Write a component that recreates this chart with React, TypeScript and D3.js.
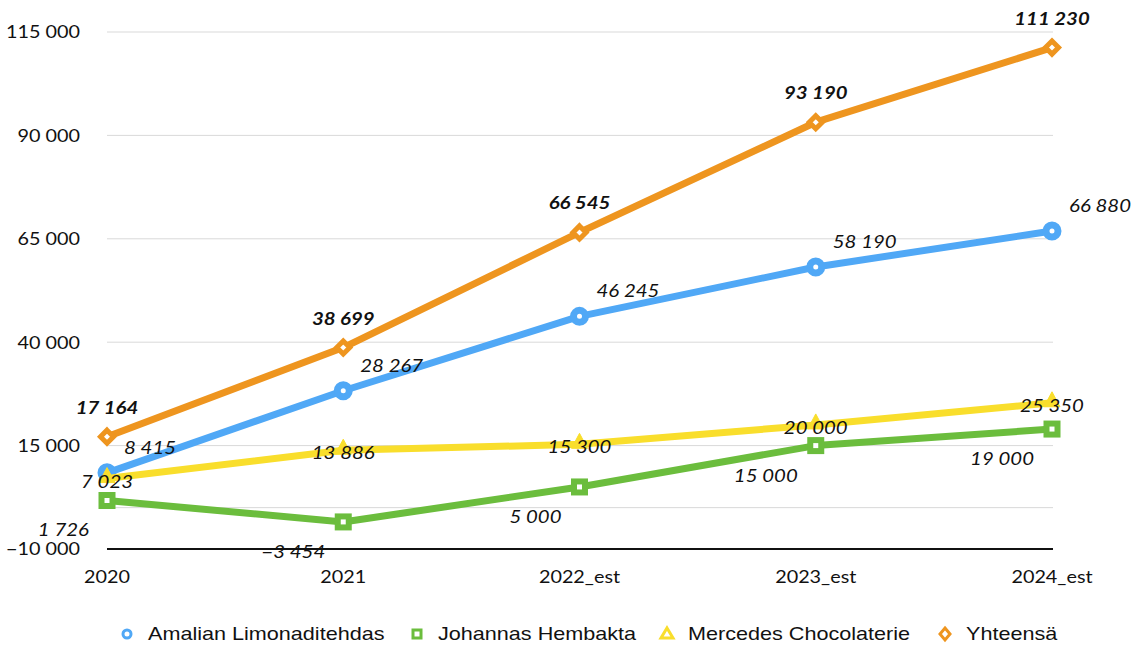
import React from "react";
import * as d3 from "d3";

const categories = ["2020", "2021", "2022_est", "2023_est", "2024_est"];
const amalian = [8415, 28267, 46245, 58190, 66880];
const johannes = [1726, -3454, 5000, 15000, 19000];
const mercedes = [7023, 13886, 15300, 20000, 25350];
const yhteensa = [17164, 38699, 66545, 93190, 111230];
const yTicks = [-10000, 15000, 40000, 65000, 90000, 115000];
const gridValues = [0, 15000, 40000, 65000, 90000, 115000];
const seriesNames = ["Amalian Limonaditehdas", "Johannas Hembakta", "Mercedes Chocolaterie", "Yhteensä"];

const BLUE = "#50a8f6";
const GREEN = "#6bbd3d";
const YELLOW = "#f9de2c";
const ORANGE = "#ee951f";

const axisFont = "Lato, Carlito, 'Open Sans', sans-serif";
const legendFont = "'Liberation Sans', Arial, sans-serif";

function fmt(v: number): string {
  const s = Math.abs(v).toString().replace(/\B(?=(\d{3})+(?!\d))/g, " ");
  return (v < 0 ? "\u2212" : "") + s;
}

function T(props: { x: number; y: number; anchor?: string; size: number; family: string; sx?: number; italic?: boolean; bold?: boolean; children: React.ReactNode }) {
  const sx = props.sx ?? 1.2;
  return (
    <text
      transform={`translate(${props.x},${props.y}) scale(${sx},1)`}
      dy="0.35em"
      textAnchor={props.anchor || "start"}
      fontFamily={props.family}
      fontSize={props.size}
      fontStyle={props.italic ? "italic" : "normal"}
      fontWeight={props.bold ? "bold" : "normal"}
      fill="#111"
    >
      {props.children}
    </text>
  );
}

export default function App() {
  const W = 1141, H = 645;
  const x = d3.scalePoint<string>().domain(categories).range([107, 1052]);
  const y = d3.scaleLinear().domain([-10000, 115000]).range([549, 32]);
  const line = d3.line<number>().x((_, i) => x(categories[i])!).y((d) => y(d));

  const circle = (cx: number, cy: number, k: string) => (
    <circle key={k} cx={cx} cy={cy} r={6} fill="#fff" stroke={BLUE} strokeWidth={7} />
  );
  const square = (cx: number, cy: number, k: string) => (
    <rect key={k} x={cx - 5.5} y={cy - 5.5} width={11} height={11} fill="#fff" stroke={GREEN} strokeWidth={6} />
  );
  const tri = (cx: number, cy: number, k: string) => (
    <path key={k} d={`M${cx},${cy - 11} L${cx + 8},${cy + 4} L${cx - 8},${cy + 4} Z`} fill={YELLOW} stroke={YELLOW} strokeWidth={1} />
  );
  const diamond = (cx: number, cy: number, k: string) => (
    <path key={k} d={`M${cx},${cy - 6.5} L${cx + 6.5},${cy} L${cx},${cy + 6.5} L${cx - 6.5},${cy} Z`} fill="#fff" stroke={ORANGE} strokeWidth={5} />
  );

  const series = [
    { vals: amalian, color: BLUE, marker: circle },
    { vals: johannes, color: GREEN, marker: square },
    { vals: mercedes, color: YELLOW, marker: tri },
    { vals: yhteensa, color: ORANGE, marker: diamond },
  ];

  const legendX = [127, 417, 667, 945];

  return (
    <svg width={W} height={H} style={{ position: "absolute", left: 0, top: 0, background: "#fff" }}>
      {gridValues.map((v) => (
        <line key={"g" + v} x1={107} x2={1053} y1={y(v)} y2={y(v)} stroke="#d9d9d9" strokeWidth={1} />
      ))}
      <line x1={107} x2={1053} y1={y(-10000)} y2={y(-10000)} stroke="#111" strokeWidth={2} />
      {yTicks.map((v) => (
        <T key={"t" + v} x={80} y={y(v)} anchor="end" size={18} sx={1.1} family={axisFont}>
          {fmt(v)}
        </T>
      ))}
      {categories.map((c) => (
        <T key={"c" + c} x={x(c)!} y={577} anchor="middle" size={18} sx={1.1} family={axisFont}>
          {c}
        </T>
      ))}
      {series.map((s, si) => (
        <g key={"s" + si}>
          <path d={line(s.vals)!} fill="none" stroke={s.color} strokeWidth={7} strokeLinejoin="round" />
          {s.vals.map((v, i) => s.marker(x(categories[i])!, y(v), `m${si}-${i}`))}
        </g>
      ))}
      {amalian.map((v, i) => (
        <T key={"la" + i} x={x(categories[i])! + 17} y={y(v) - 25} anchor="start" size={17} family={axisFont} italic>
          {fmt(v)}
        </T>
      ))}
      {johannes.map((v, i) => (
        <T key={"lj" + i} x={x(categories[i])! - 18} y={y(v) + 30} anchor="end" size={17} family={axisFont} italic>
          {fmt(v)}
        </T>
      ))}
      {mercedes.map((v, i) => (
        <T key={"lm" + i} x={x(categories[i])!} y={y(v) + 3} anchor="middle" size={17} family={axisFont} italic>
          {fmt(v)}
        </T>
      ))}
      {yhteensa.map((v, i) => (
        <T key={"ly" + i} x={x(categories[i])!} y={y(v) - 29} anchor="middle" size={17} family={axisFont} italic bold>
          {fmt(v)}
        </T>
      ))}
      {seriesNames.map((n, i) => {
        const cx = legendX[i];
        const cy = 634;
        let m;
        if (i === 0) m = <circle cx={cx} cy={cy} r={4} fill="#fff" stroke={BLUE} strokeWidth={3} />;
        else if (i === 1) m = <rect x={cx - 4} y={cy - 4} width={8} height={8} fill="#fff" stroke={GREEN} strokeWidth={3} />;
        else if (i === 2) m = <path d={`M${cx},${cy - 6} L${cx + 6},${cy + 4} L${cx - 6},${cy + 4} Z`} fill="#fff" stroke={YELLOW} strokeWidth={3} />;
        else m = <path d={`M${cx},${cy - 6} L${cx + 5},${cy} L${cx},${cy + 6} L${cx - 5},${cy} Z`} fill="#fff" stroke={ORANGE} strokeWidth={3} />;
        return (
          <g key={"lg" + i}>
            {m}
            <T x={cx + 21} y={cy} size={18} family={legendFont}>
              {n}
            </T>
          </g>
        );
      })}
    </svg>
  );
}
